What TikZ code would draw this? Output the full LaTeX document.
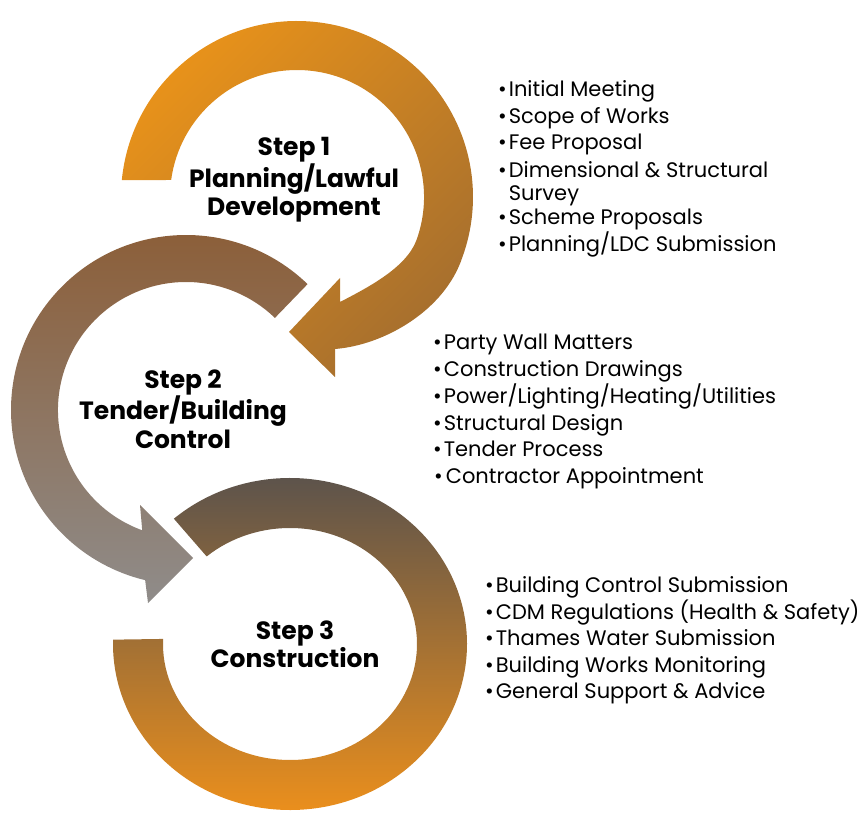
\documentclass[tikz,border=0pt]{standalone}
\usepackage{fontspec}
\setmainfont{Poppins}
\usetikzlibrary{calc}
\definecolor{planorange}{HTML}{E8921A}
\definecolor{planbrown}{HTML}{A66F2E}
\definecolor{tenderbrown}{HTML}{8C5D36}
\definecolor{tendergrey}{HTML}{8F8C8A}
\definecolor{builddark}{HTML}{55504E}
\definecolor{buildorange}{HTML}{F2921A}

\begin{document}
\begin{tikzpicture}[x=1pt, y=1pt,
		steplabel/.style={align=center, inner sep=0pt, font=\bfseries\fontsize{25}{28.5}\selectfont},
		item/.style={anchor=base west, inner sep=0pt, font=\fontsize{21}{23}\selectfont}]
				\useasboundingbox (0,0) rectangle (863,-813);
				
				\coordinate (cone) at (297,-197);
				\coordinate (ctwo) at (186,-410);
				\coordinate (cthree) at (290,-644);
				
				\shade[top color=planorange, bottom color=planbrown, shading angle=45] ($(cone)+(174.5:176pt)$) arc (174.5:-20:176pt)
					.. controls (445,-310) and (385,-345) .. (335,-349) -- (335,-377) -- (289,-332) -- (340,-278) -- (340,-302)
					.. controls (367,-288) and (406,-268) .. ($(cone)+(-20:127pt)$) arc (-20:172.3:127pt) -- cycle;
				
				\shade[top color=tenderbrown, bottom color=tendergrey] ($(ctwo)+(46:175pt)$) arc (46:256.5:175pt)
					-- (148,-603) -- (193,-558) -- (140,-505) -- ($(ctwo)+(250:128pt)$) arc (250:46:128pt) -- cycle;
				
				\shade[top color=builddark, bottom color=buildorange] ($(cthree)+({177*cos(131)},{166*sin(131)})$)
					arc[start angle=131, end angle=-181.5, x radius=177pt, y radius=166pt]
					-- ($(cthree)+({127*cos(-182.5)},{116*sin(-182.5)})$)
					arc[start angle=-182.5, end angle=131, x radius=127pt, y radius=116pt] -- cycle;
				
				\node[steplabel] (stepone) at (294,-180) {Step 1\\Planning/Lawful\\Development};
				\node[steplabel] (steptwo) at (183,-409) {Step 2\\Tender/Building\\Control};
				\node[steplabel] (stepthree) at (295,-644.5) {Step 3\\Construction};
				
				\node[item] (meeting) at (498,-96.7) {\textbullet\hspace{2pt}Initial Meeting};
				\node[item] (scope) at (498,-123.3) {\textbullet\hspace{2pt}Scope of Works};
				\node[item] (fee) at (498,-150) {\textbullet\hspace{2pt}Fee Proposal};
				\node[item] (survey) at (498,-177.3) {\textbullet\hspace{2pt}\parbox[t]{300pt}{Dimensional \& Structural\\Survey}};
				\node[item] (scheme) at (498,-225) {\textbullet\hspace{2pt}Scheme Proposals};
				\node[item] (ldc) at (498,-251.7) {\textbullet\hspace{2pt}Planning/LDC Submission};
				
				\node[item] (partywall) at (433,-350) {\textbullet\hspace{2pt}Party Wall Matters};
				\node[item] (drawings) at (433,-376.7) {\textbullet\hspace{2pt}Construction Drawings};
				\node[item] (utilities) at (433,-403.3) {\textbullet\hspace{2pt}Power/Lighting/Heating/Utilities};
				\node[item] (design) at (433,-430) {\textbullet\hspace{2pt}Structural Design};
				\node[item] (tender) at (433,-456.7) {\textbullet\hspace{2pt}Tender Process};
				\node[item] (contractor) at (434,-483.3) {\textbullet\hspace{3pt}Contractor Appointment};
				
				\node[item] (bcsubmit) at (485,-592.3) {\textbullet\hspace{2pt}Building Control Submission};
				\node[item] (cdm) at (485,-619) {\textbullet\hspace{2pt}CDM Regulations (Health \& Safety)};
				\node[item] (thames) at (485,-645.7) {\textbullet\hspace{2pt}Thames Water Submission};
				\node[item] (monitor) at (485,-672.3) {\textbullet\hspace{2pt}Building Works Monitoring};
				\node[item] (advice) at (485,-698.3) {\textbullet\hspace{2pt}General Support \& Advice};
			\end{tikzpicture}
\end{document}
